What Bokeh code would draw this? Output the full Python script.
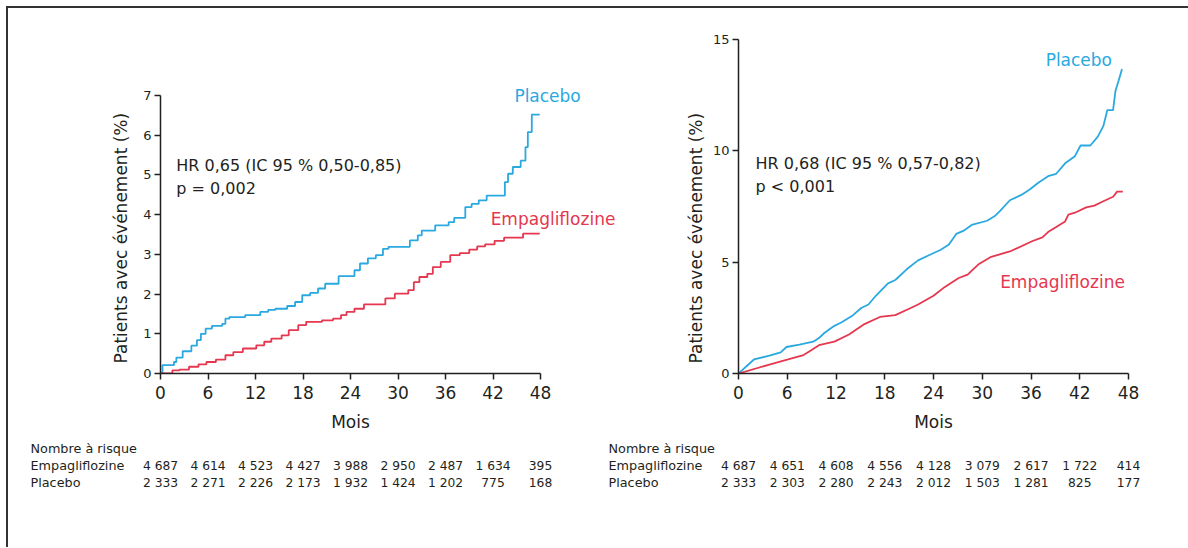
from bokeh.plotting import figure
from bokeh.layouts import column, row
from bokeh.models import Range1d, FixedTicker, ColumnDataSource, Title
from bokeh.embed import file_html
from bokeh.resources import INLINE
from bokeh.core.properties import value

# ---------------- data ----------------
months = [0, 6, 12, 18, 24, 30, 36, 42, 48]

# Left chart (step curves)
left_placebo_x = [0, 0.25, 1.7, 2.0, 2.8, 3.9, 4.6, 5.1, 5.7, 6.5, 7.8, 8.2, 8.7, 10.7, 12.6,
                  13.6, 14.5, 16.0, 17.0, 17.9, 18.9, 19.9, 20.8, 22.5, 24.5, 25.2, 26.2, 27.2,
                  28.1, 28.8, 31.5, 32.5, 33.0, 34.7, 36.4, 37.1, 38.5, 39.3, 40.2, 41.2, 43.5,
                  43.9, 44.5, 45.5, 46.1, 46.4, 46.9, 47.9]
left_placebo_y = [0, 0.21, 0.29, 0.40, 0.56, 0.70, 0.84, 1.00, 1.13, 1.20, 1.25, 1.38, 1.42, 1.47,
                  1.55, 1.60, 1.63, 1.70, 1.80, 1.97, 2.03, 2.14, 2.26, 2.45, 2.60, 2.77, 2.90,
                  2.98, 3.14, 3.19, 3.35, 3.48, 3.60, 3.73, 3.81, 3.92, 4.19, 4.27, 4.36, 4.48,
                  4.82, 5.03, 5.20, 5.36, 5.70, 6.08, 6.52, 6.52]
left_empa_x = [0, 1.5, 2.4, 3.6, 4.8, 5.8, 7.0, 8.2, 9.2, 10.4, 12.1, 13.1, 14.0, 15.3, 16.2,
               17.4, 18.4, 20.4, 21.8, 22.8, 23.5, 24.5, 25.7, 28.4, 29.6, 31.3, 32.0, 32.7,
               33.7, 34.4, 35.4, 36.6, 37.8, 39.0, 40.0, 41.0, 42.2, 43.4, 45.8, 47.9]
left_empa_y = [0, 0.08, 0.10, 0.17, 0.23, 0.29, 0.35, 0.46, 0.54, 0.63, 0.71, 0.80, 0.88, 0.96,
               1.09, 1.22, 1.30, 1.34, 1.38, 1.47, 1.55, 1.63, 1.74, 1.89, 2.01, 2.10, 2.30,
               2.43, 2.51, 2.68, 2.81, 2.98, 3.03, 3.12, 3.20, 3.25, 3.34, 3.42, 3.52, 3.52]

# Right chart
right_placebo_x = [0, 1.9, 3.8, 5.2, 5.9, 7.5, 9.2, 9.9, 10.6, 11.8, 12.7, 14.1, 15.1, 16.0, 16.9,
                   18.4, 19.3, 20.7, 22.1, 23.5, 24.9, 25.9, 26.8, 27.8, 28.7, 30.6, 31.5, 32.2,
                   33.4, 34.8, 35.8, 36.9, 38.1, 39.1, 40.2, 41.4, 42.1, 43.3, 44.2, 44.9, 45.4,
                   46.1, 46.4, 46.8, 47.2]
right_placebo_y = [0, 0.63, 0.80, 0.95, 1.19, 1.30, 1.43, 1.59, 1.83, 2.14, 2.30, 2.62, 2.94, 3.10,
                   3.49, 4.05, 4.20, 4.68, 5.08, 5.32, 5.56, 5.79, 6.27, 6.43, 6.67, 6.86, 7.06,
                   7.30, 7.78, 8.02, 8.25, 8.57, 8.86, 8.97, 9.44, 9.76, 10.24, 10.24, 10.63,
                   11.11, 11.83, 11.83, 12.70, 13.17, 13.68]
right_empa_x = [0, 3.8, 6.1, 8.0, 8.9, 9.9, 11.8, 13.6, 15.5, 17.4, 19.3, 21.2, 22.1, 24.0, 25.4,
                27.1, 28.2, 29.6, 31.1, 33.4, 36.2, 37.4, 38.1, 39.5, 40.2, 40.6, 41.4, 42.8,
                43.8, 44.7, 46.1, 46.6, 47.3]
right_empa_y = [0, 0.40, 0.63, 0.83, 1.03, 1.27, 1.43, 1.75, 2.22, 2.54, 2.62, 2.94, 3.10, 3.49,
                3.89, 4.29, 4.44, 4.92, 5.24, 5.48, 5.95, 6.11, 6.35, 6.67, 6.83, 7.14, 7.22,
                7.46, 7.54, 7.70, 7.94, 8.17, 8.17]

left_yticks = [0, 1, 2, 3, 4, 5, 6, 7]
right_yticks = [0, 5, 10, 15]

left_risk_empa = ["4 687", "4 614", "4 523", "4 427", "3 988", "2 950", "2 487", "1 634", "395"]
left_risk_placebo = ["2 333", "2 271", "2 226", "2 173", "1 932", "1 424", "1 202", "775", "168"]
right_risk_empa = ["4 687", "4 651", "4 608", "4 556", "4 128", "3 079", "2 617", "1 722", "414"]
right_risk_placebo = ["2 333", "2 303", "2 280", "2 243", "2 012", "1 503", "1 281", "825", "177"]

left_stats = ["HR 0,65 (IC 95 % 0,50-0,85)", "p = 0,002"]
right_stats = ["HR 0,68 (IC 95 % 0,57-0,82)", "p < 0,001"]

# ---------------- style ----------------
FONT = "DejaVu Sans"
INK = "#231F20"
BLUE = "#2AA9E0"
RED = "#E5374F"
LW = 1.8

FRAME_TOP = 31      # border above both frames
FRAME_H = 334       # both frames share top/height (row layout aligns frames)
BOTTOM = 65


def make_chart(fw, px_per_month, ymax_axis, px_per_unit, yticks, mbl, mbr, ylab_standoff):
    x_end = fw / px_per_month
    y_end = FRAME_H / px_per_unit
    p = figure(frame_width=fw, frame_height=FRAME_H, x_range=Range1d(0, x_end),
               y_range=Range1d(0, y_end),
               output_backend="svg", toolbar_location=None,
               min_border_left=mbl, min_border_right=mbr, min_border_top=FRAME_TOP,
               min_border_bottom=BOTTOM)
    p.outline_line_color = None
    p.grid.visible = False
    p.xaxis.ticker = FixedTicker(ticks=months)
    p.yaxis.ticker = FixedTicker(ticks=yticks)
    p.xaxis.bounds = (0, 48)
    p.yaxis.bounds = (0, ymax_axis)
    for ax in (p.xaxis[0], p.yaxis[0]):
        ax.axis_line_color = INK
        ax.axis_line_width = 1.5
        ax.major_tick_line_color = INK
        ax.major_tick_line_width = 1.5
        ax.major_tick_in = 0
        ax.major_tick_out = 6
        ax.minor_tick_line_color = None
        ax.major_label_text_font = FONT
        ax.major_label_text_color = INK
    p.xaxis.major_label_text_font_size = "17px"
    p.yaxis.major_label_text_font_size = "13px"
    p.xaxis.major_label_standoff = 6
    p.yaxis.major_label_standoff = 3
    # x-axis title centred under the 0..48 axis (not the wider frame)
    mois_w = 2.274 * 17  # approx text width of "Mois" at 17px
    p.add_layout(Title(text="Mois", align="left", offset=24 * px_per_month - mois_w / 2,
                       standoff=16, text_font=FONT, text_font_size="17px",
                       text_font_style="normal", text_color=INK), "below")
    p.add_layout(Title(text="Patients avec événement (%)", align="left", offset=10,
                       standoff=ylab_standoff, text_font=FONT, text_font_size="17px",
                       text_font_style="normal", text_color=INK), "left")
    return p


# Left chart: axis 160..540 (0..48), 0 at y=373, 7 at y=95
L_PPM = 380 / 48.0
L_PPU = 278 / 7.0
pL = make_chart(460, L_PPM, 7, L_PPU, left_yticks, 152, 0, 20)
pL.step(left_placebo_x, left_placebo_y, mode="after", line_color=BLUE, line_width=LW)
pL.step(left_empa_x, left_empa_y, mode="after", line_color=RED, line_width=LW)
pL.text(x=[44.7], y=[7.0], text=["Placebo"], text_font=value(FONT), text_font_size="17px",
        text_color=BLUE, text_baseline="middle")
pL.text(x=[41.7], y=[3.9], text=["Empagliflozine"], text_font=value(FONT), text_font_size="17px",
        text_color=RED, text_baseline="middle")
pL.text(x=[2.0, 2.0], y=[5.24, 4.66], text=left_stats, text_font=value(FONT),
        text_font_size="16px", text_color=INK, text_baseline="middle")

# Right chart: axis 738..1128 (0..48), 0 at y=373, 15 at y=39
R_PPM = 390 / 48.0
R_PPU = 334 / 15.0
pR = make_chart(402, R_PPM, 15, R_PPU, right_yticks, 118, 48, 8)
pR.line(right_placebo_x, right_placebo_y, line_color=BLUE, line_width=LW)
pR.line(right_empa_x, right_empa_y, line_color=RED, line_width=LW)
pR.text(x=[37.8], y=[14.1], text=["Placebo"], text_font=value(FONT), text_font_size="17px",
        text_color=BLUE, text_baseline="middle")
pR.text(x=[32.2], y=[4.09], text=["Empagliflozine"], text_font=value(FONT), text_font_size="17px",
        text_color=RED, text_baseline="middle")
pR.text(x=[2.1, 2.1], y=[9.43, 8.40], text=right_stats, text_font=value(FONT),
        text_font_size="16px", text_color=INK, text_baseline="middle")


TABLE_H = 108


def make_table(fig_left, fig_w, frame_left, ppm, label_left, risk_e, risk_p):
    x0 = (fig_left - frame_left) / ppm
    x1 = x0 + fig_w / ppm
    t = figure(width=fig_w, height=TABLE_H, x_range=Range1d(x0, x1), y_range=Range1d(TABLE_H, 0),
               output_backend="svg", toolbar_location=None, min_border=0,
               x_axis_location=None, y_axis_location=None)
    t.outline_line_color = None
    t.grid.visible = False
    src = ColumnDataSource(dict(x=months, e=risk_e, p=risk_p))
    lx = (label_left - frame_left) / ppm
    common = dict(text_font=value(FONT), text_color=INK, text_baseline="middle")
    t.text(x=[lx, lx, lx], y=[9, 26, 43], text=["Nombre à risque", "Empagliflozine", "Placebo"],
           text_align="left", text_font_size="12.8px", **common)
    t.text(x="x", y=26, text="e", source=src, text_align="center", text_font_size="12.3px", **common)
    t.text(x="x", y=43, text="p", source=src, text_align="center", text_font_size="12.3px", **common)
    return t


tL = make_table(8, 592, 160, L_PPM, 30, left_risk_empa, left_risk_placebo)
tR = make_table(600, 584, 738, R_PPM, 608, right_risk_empa, right_risk_placebo)

layout = column(row(pL, pR), row(tL, tR),
                styles={"border-top": "2px solid #333", "border-left": "2px solid #333",
                        "margin-left": "6px", "margin-top": "6px", "background": "white"})

open("out.html", "w").write(file_html(layout, INLINE))
